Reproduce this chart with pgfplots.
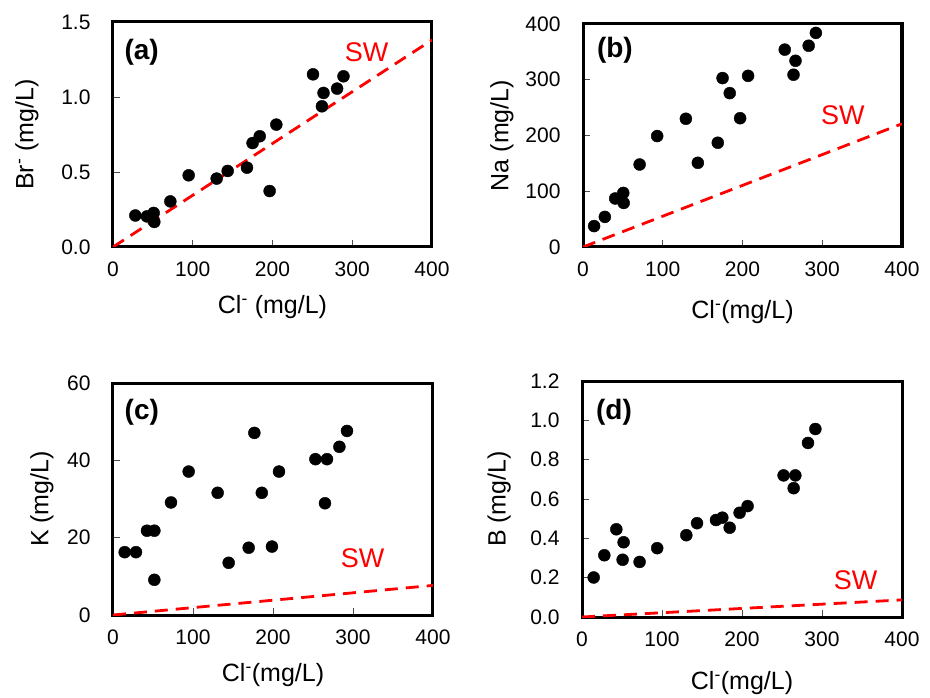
\documentclass[border=0pt]{standalone}
\usepackage{fontspec}
\setmainfont{Liberation Sans}
\usepackage{pgfplots}
\pgfplotsset{compat=1.18}

\pgfplotsset{
  panel/.style={
    scale only axis,
    xmin=0, xmax=400, xtick={0,100,200,300,400}, ymin=0,
    axis line style={line width=3pt},
    tick align=inside, xtick pos=left, ytick pos=left,
    major tick length=7pt,
    tick style={line width=0.6pt, black!70},
    /pgf/number format/assume math mode=true,
    tick label style={font=\fontsize{21}{25}\selectfont},
    xticklabel style={yshift=-11pt},
    yticklabel style={xshift=-19pt},
    label style={font=\fontsize{25}{30}\selectfont},
  },
  onedec/.style={yticklabel style={/pgf/number format/.cd, fixed, fixed zerofill, precision=1}},
  obs/.style={only marks, mark=*, mark size=6pt, black, mark options={fill=black}},
  sw/.style={red, line width=2.8pt, dash pattern=on 13pt off 8pt},
}
\newcommand\tagfont{\bfseries\fontsize{28}{32}\selectfont}
\newcommand\swfont{\fontsize{27}{32}\selectfont}

\begin{document}
\begin{tikzpicture}
\path[use as bounding box] (0,0) rectangle (930pt,697pt);

% (a) Br vs Cl
\begin{axis}[panel, onedec, at={(113pt,450pt)}, anchor=south west,
  width=319pt, height=225pt, ymax=1.5, ytick={0,0.5,1,1.5},
  xlabel={Cl\textsuperscript{-} (mg/L)}, ylabel={Br\textsuperscript{-} (mg/L)},
  xlabel style={at={(axis description cs:0.5,-0.267)}, anchor=center},
  ylabel style={at={(axis description cs:-0.27,0.5)}, anchor=center}]
\addplot[sw] coordinates {(0,0) (400,1.38)};
\addplot[obs] coordinates {
  (28,0.21) (42.6,0.204) (51,0.227) (51.8,0.167) (71.9,0.304) (94.9,0.478)
  (130,0.456) (143.8,0.507) (168,0.529) (175,0.693) (184,0.738) (196.4,0.373)
  (204.8,0.816) (250.8,1.151) (262,0.938) (264,1.027) (281,1.056) (289,1.138)};
\node[font=\tagfont] at (axis description cs:0.09,0.867) {(a)};
\node[red, font=\swfont] at (axis cs:318,1.3) {SW};
\end{axis}

% (b) Na vs Cl
\begin{axis}[panel, at={(583pt,450pt)}, anchor=south west,
  width=319pt, height=223pt, ymax=400, ytick={0,100,200,300,400},
  xlabel={Cl\textsuperscript{-}(mg/L)}, ylabel={Na (mg/L)},
  xlabel style={at={(axis description cs:0.5,-0.29)}, anchor=center},
  ylabel style={at={(axis description cs:-0.254,0.5)}, anchor=center}]
\addplot[sw] coordinates {(0,0) (400,221)};
\addplot[obs] coordinates {
  (13.9,37.5) (27.4,54) (40.4,87) (50.5,97) (51,79) (71,148) (93,199)
  (129,230) (144,151) (169,187) (175,303) (184,276) (197,231) (207,307)
  (253,354) (264,309) (266.5,334) (283,361) (292,384)};
\node[font=\tagfont] at (axis description cs:0.10,0.883) {(b)};
\node[red, font=\swfont] at (axis cs:326,237) {SW};
\end{axis}

% (c) K vs Cl
\begin{axis}[panel, at={(113pt,82pt)}, anchor=south west,
  width=320pt, height=232pt, ymax=60, ytick={0,20,40,60},
  xlabel={Cl\textsuperscript{-}(mg/L)}, ylabel={K (mg/L)},
  xlabel style={at={(axis description cs:0.5,-0.259)}, anchor=center},
  ylabel style={at={(axis description cs:-0.222,0.5)}, anchor=center}]
\addplot[sw] coordinates {(0,0) (400,7.65)};
\addplot[obs] coordinates {
  (14.6,16.25) (28.7,16.25) (42.5,21.8) (51.7,21.8) (51.7,9.1) (72.5,29.1)
  (94.6,37.1) (130.8,31.6) (144.6,13.5) (169.6,17.4) (176.7,47.1) (186,31.6)
  (198.7,17.7) (207.5,37.1) (253,40.3) (265,28.9) (267.5,40.3) (283,43.5)
  (292.5,47.6)};
\node[font=\tagfont] at (axis description cs:0.09,0.875) {(c)};
\node[red, font=\swfont] at (axis cs:312,14.7) {SW};
\end{axis}

% (d) B vs Cl
\begin{axis}[panel, onedec, at={(582pt,80pt)}, anchor=south west,
  width=320pt, height=236pt, ymax=1.2, ytick={0,0.2,0.4,0.6,0.8,1.0,1.2},
  xlabel={Cl\textsuperscript{-}(mg/L)}, ylabel={B (mg/L)},
  xlabel style={at={(axis description cs:0.5,-0.28)}, anchor=center},
  ylabel style={at={(axis description cs:-0.259,0.5)}, anchor=center}]
\addplot[sw] coordinates {(0,0) (400,0.087)};
\addplot[obs] coordinates {
  (14.6,0.201) (27.9,0.314) (42.9,0.446) (52,0.380) (50.8,0.291) (72,0.280)
  (94,0.350) (130.4,0.416) (143.8,0.477) (167.5,0.493) (175.4,0.505)
  (184.6,0.454) (197,0.530) (207,0.564) (252,0.720) (264.6,0.655)
  (266.7,0.720) (282.5,0.885) (291.7,0.956)};
\node[font=\tagfont] at (axis description cs:0.10,0.869) {(d)};
\node[red, font=\swfont] at (axis cs:342,0.188) {SW};
\end{axis}
\end{tikzpicture}
\end{document}
